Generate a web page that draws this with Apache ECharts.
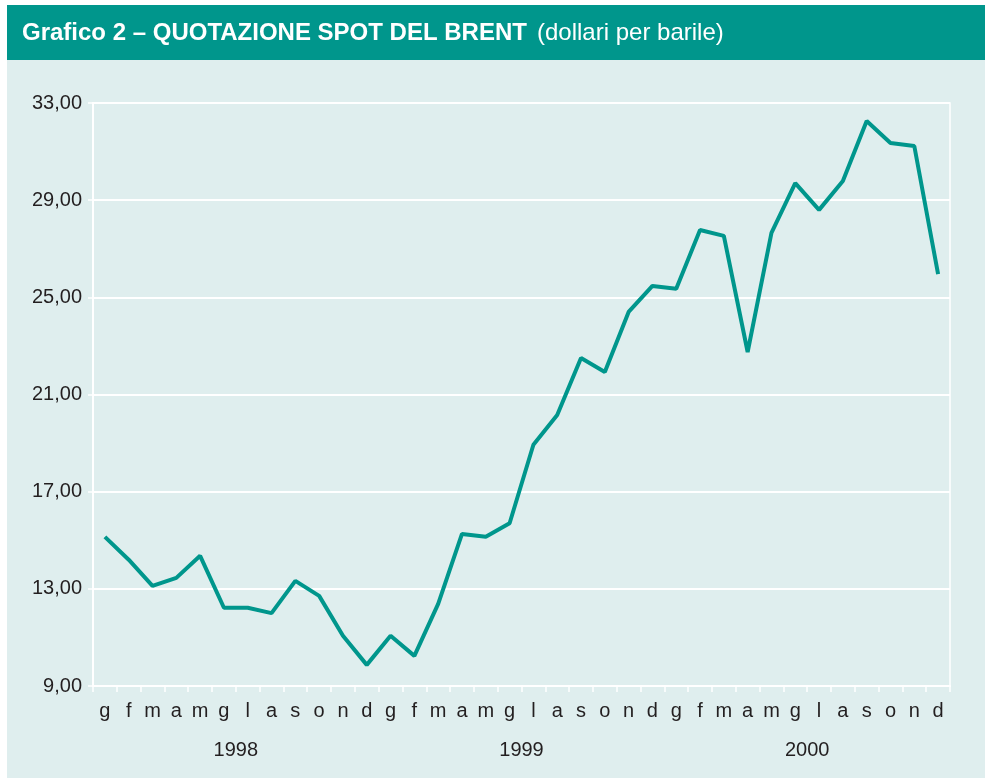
<!DOCTYPE html>
<html>
<head>
<meta charset="utf-8">
<script src="https://cdn.jsdelivr.net/npm/echarts@6/dist/echarts.min.js"></script>
<style>
  html, body { margin: 0; padding: 0; background: #fff; }
  #brent_line { width: 988px; height: 781px; }
</style>
</head>
<body>
<div id="brent_line"></div>
<script>
// mesi (g f m a m g l a s o n d) per 1998-2000
var months = ['g','f','m','a','m','g','l','a','s','o','n','d'];
var categories = [].concat(months, months, months);
var years = ['1998', '1999', '2000'];
var yTicks = [9, 13, 17, 21, 25, 29, 33];
// quotazione spot del Brent, dollari per barile
var brent = [
    15.14, 14.2, 13.12, 13.45, 14.36, 12.22, 12.22, 12.0, 13.33, 12.71, 11.07, 9.87,
    11.07, 10.24, 12.38, 15.26, 15.14, 15.7, 18.93, 20.16, 22.5, 21.93, 24.4, 25.47,
    25.35, 27.77, 27.53, 22.75, 27.65, 29.7, 28.6, 29.79, 32.26, 31.35, 31.23, 25.96
];

var teal = '#00968c';
var textColor = '#231f20';
var font = '"Liberation Sans", Arial, sans-serif';

var myChartLine = echarts.init(document.getElementById('brent_line'));
var options = {
    animation: false,
    textStyle: { fontFamily: font },
    graphic: [
        {
            type: 'rect', z: -10,
            shape: { x: 7, y: 5, width: 978, height: 773 },
            style: { fill: '#dfeeee' }
        },
        {
            type: 'rect', z: -9,
            shape: { x: 7, y: 5, width: 978, height: 55 },
            style: { fill: teal }
        },
        {
            type: 'text', x: 22, y: 33,
            style: {
                text: 'Grafico 2 – QUOTAZIONE SPOT DEL BRENT',
                verticalAlign: 'middle',
                fill: '#fff', fontSize: 24, fontWeight: 'bold', fontFamily: font
            }
        },
        {
            type: 'text', x: 537, y: 33,
            style: {
                text: '(dollari per barile)',
                verticalAlign: 'middle',
                fill: '#fff', fontSize: 24, fontFamily: font
            }
        }
    ],
    grid: {
        left: 93, right: 38, top: 103, bottom: 95,
        show: true, borderColor: '#fff', borderWidth: 1.5, backgroundColor: 'transparent'
    },
    xAxis: [
        {
            type: 'category',
            data: categories,
            boundaryGap: true,
            axisLine: { lineStyle: { color: '#fff', width: 2 } },
            axisTick: { show: true, length: 6, lineStyle: { color: '#fff', width: 1.5 } },
            axisLabel: { color: textColor, fontSize: 20, margin: 15, interval: 0, fontFamily: font },
            splitLine: { show: false }
        },
        {
            type: 'category',
            data: years,
            position: 'bottom',
            offset: 40,
            boundaryGap: true,
            axisLine: { show: false },
            axisTick: { show: false },
            axisLabel: { color: textColor, fontSize: 20, margin: 14, fontFamily: font }
        }
    ],
    yAxis: {
        type: 'value',
        min: yTicks[0],
        max: yTicks[yTicks.length - 1],
        interval: 4,
        axisLine: { show: true, lineStyle: { color: '#fff', width: 2 } },
        axisTick: { show: true, length: 5, lineStyle: { color: '#fff', width: 1.5 } },
        splitLine: { lineStyle: { color: '#fff', width: 2 } },
        axisLabel: {
            color: textColor, fontSize: 20, margin: 11, fontFamily: font,
            formatter: function (v) { return v.toFixed(2).replace('.', ','); }
        }
    },
    series: [
        {
            name: 'Brent',
            type: 'line',
            xAxisIndex: 0,
            data: brent,
            showSymbol: false,
            lineStyle: { color: teal, width: 4 },
            itemStyle: { color: teal }
        }
    ]
};
myChartLine.setOption(options);
</script>
</body>
</html>
